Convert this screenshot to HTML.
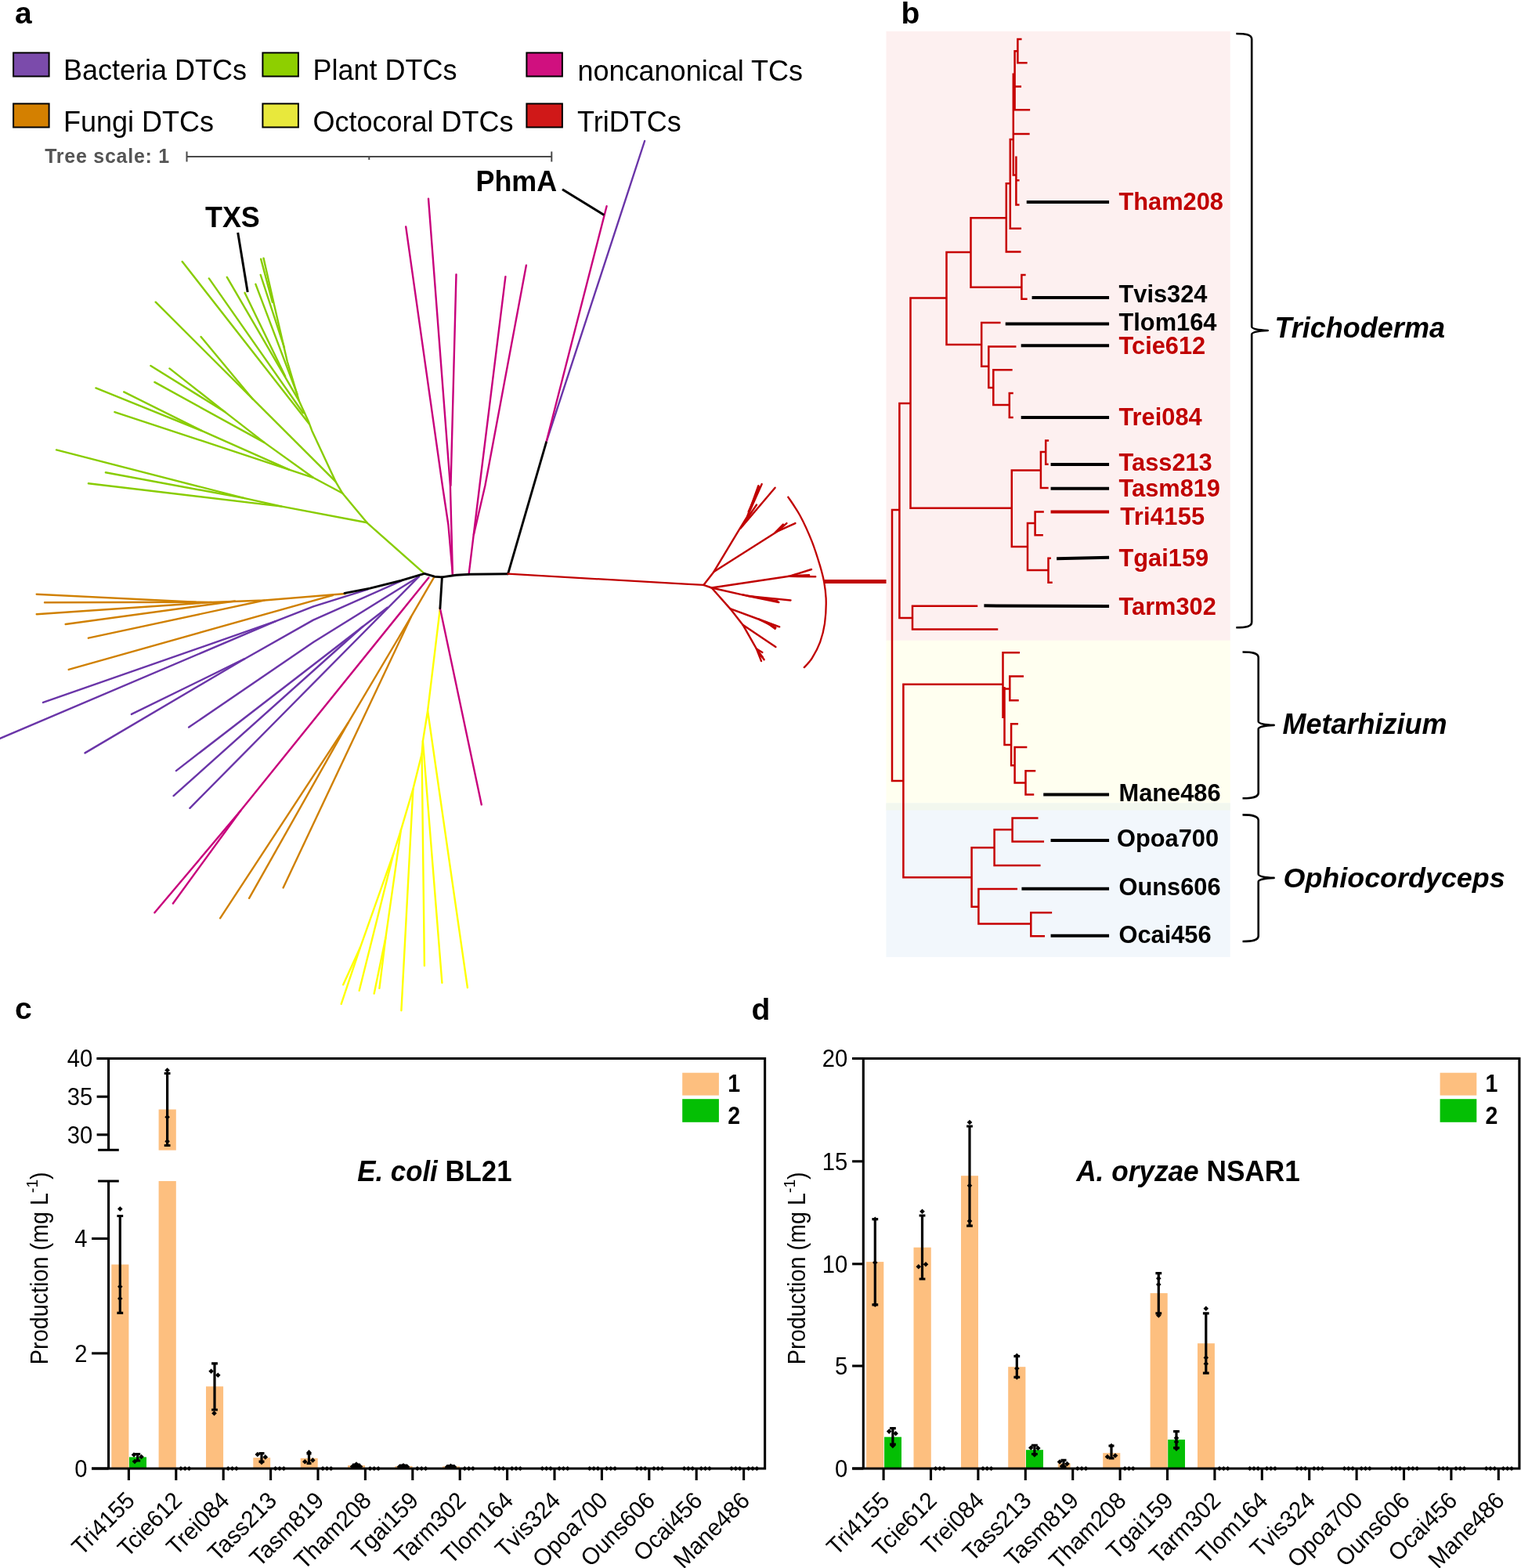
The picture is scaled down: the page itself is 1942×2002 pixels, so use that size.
<!DOCTYPE html>
<html lang="en"><head><meta charset="utf-8"><title>Figure</title>
<style>
html,body{margin:0;padding:0;background:#fff;}
body{width:1942px;height:2002px;overflow:hidden;}
svg{display:block;}
svg text{font-family:"Liberation Sans",Arial,Helvetica,sans-serif;}
</style></head><body>
<svg width="1942" height="2002" viewBox="0 0 1942 2002">
<rect x="0" y="0" width="1942" height="2002" fill="#fff"/>
<text transform="translate(19,30)" font-size="39" font-weight="bold" font-style="normal" fill="#000" text-anchor="start" >a</text>
<text transform="translate(1150.5,30)" font-size="39" font-weight="bold" font-style="normal" fill="#000" text-anchor="start" >b</text>
<text transform="translate(19,1301)" font-size="39" font-weight="bold" font-style="normal" fill="#000" text-anchor="start" >c</text>
<text transform="translate(959.5,1301.5)" font-size="39" font-weight="bold" font-style="normal" fill="#000" text-anchor="start" >d</text>
<rect x="17.1" y="67.4" width="45.5" height="30.1" fill="#7b4bab" stroke="#000" stroke-width="2"/>
<text transform="translate(81,102)" font-size="36" font-weight="normal" font-style="normal" fill="#000" text-anchor="start" >Bacteria DTCs</text>
<rect x="17.1" y="132.4" width="45.5" height="30.1" fill="#d48000" stroke="#000" stroke-width="2"/>
<text transform="translate(81,168)" font-size="36" font-weight="normal" font-style="normal" fill="#000" text-anchor="start" >Fungi DTCs</text>
<rect x="335.40000000000003" y="67.4" width="45.5" height="30.1" fill="#8ecf00" stroke="#000" stroke-width="2"/>
<text transform="translate(399.5,102)" font-size="36" font-weight="normal" font-style="normal" fill="#000" text-anchor="start" >Plant DTCs</text>
<rect x="335.40000000000003" y="132.4" width="45.5" height="30.1" fill="#e8e83c" stroke="#000" stroke-width="2"/>
<text transform="translate(399.5,168)" font-size="36" font-weight="normal" font-style="normal" fill="#000" text-anchor="start" >Octocoral DTCs</text>
<rect x="672.4" y="67.4" width="45.5" height="30.1" fill="#d0107f" stroke="#000" stroke-width="2"/>
<text transform="translate(737.5,102.5)" font-size="36" font-weight="normal" font-style="normal" fill="#000" text-anchor="start" >noncanonical TCs</text>
<rect x="672.4" y="132.4" width="45.5" height="30.1" fill="#d01818" stroke="#000" stroke-width="2"/>
<text transform="translate(737,168)" font-size="36" font-weight="normal" font-style="normal" fill="#000" text-anchor="start" >TriDTCs</text>
<text transform="translate(57.2,207.8) scale(1.0,1.03)" font-size="25" font-weight="bold" font-style="normal" fill="#555" text-anchor="start" letter-spacing="0.75">Tree scale: 1</text>
<path d="M238.5,200H704.3M238.5,193.5V206.5M704.3,193.5V206.5M471.3,200V204" stroke="#4a4a4a" stroke-width="2" fill="none"/>
<polyline points="541.9,732.4 468.5,667.3 437.3,629.8 428.5,614.8 398.3,549.9 393.6,537.4 381.9,512.0 366.8,461.5 350.4,390.8 336.5,329.6" fill="none" stroke="#88cc00" stroke-width="2.4" stroke-linecap="round" stroke-linejoin="round" />
<polyline points="333.1,330.6 347.8,385.8" fill="none" stroke="#88cc00" stroke-width="2.4" stroke-linecap="round" stroke-linejoin="round" />
<polyline points="332.7,351.0 363.0,443.8" fill="none" stroke="#88cc00" stroke-width="2.4" stroke-linecap="round" stroke-linejoin="round" />
<polyline points="326.4,362.8 379.4,503.2" fill="none" stroke="#88cc00" stroke-width="2.4" stroke-linecap="round" stroke-linejoin="round" />
<polyline points="312.5,373.8 364.2,480.4" fill="none" stroke="#88cc00" stroke-width="2.4" stroke-linecap="round" stroke-linejoin="round" />
<polyline points="289.8,353.9 381.9,512.0" fill="none" stroke="#88cc00" stroke-width="2.4" stroke-linecap="round" stroke-linejoin="round" />
<polyline points="266.8,355.4 387.0,527.2" fill="none" stroke="#88cc00" stroke-width="2.4" stroke-linecap="round" stroke-linejoin="round" />
<polyline points="232.7,334.0 394.6,541.1" fill="none" stroke="#88cc00" stroke-width="2.4" stroke-linecap="round" stroke-linejoin="round" />
<polyline points="198.7,385.7 428.5,614.8" fill="none" stroke="#88cc00" stroke-width="2.4" stroke-linecap="round" stroke-linejoin="round" />
<polyline points="256.6,429.9 322.6,509.4" fill="none" stroke="#88cc00" stroke-width="2.4" stroke-linecap="round" stroke-linejoin="round" />
<polyline points="437.3,629.8 399.8,609.8" fill="none" stroke="#88cc00" stroke-width="2.4" stroke-linecap="round" stroke-linejoin="round" />
<polyline points="192.4,466.9 287.4,526.1 337.3,564.9 399.8,609.8" fill="none" stroke="#88cc00" stroke-width="2.4" stroke-linecap="round" stroke-linejoin="round" />
<polyline points="216.4,470.4 287.4,526.1" fill="none" stroke="#88cc00" stroke-width="2.4" stroke-linecap="round" stroke-linejoin="round" />
<polyline points="197.4,487.9 337.3,564.9" fill="none" stroke="#88cc00" stroke-width="2.4" stroke-linecap="round" stroke-linejoin="round" />
<polyline points="122.4,495.4 257.4,549.9 369.8,599.8 399.8,609.8" fill="none" stroke="#88cc00" stroke-width="2.4" stroke-linecap="round" stroke-linejoin="round" />
<polyline points="158.2,500.4 257.4,549.9" fill="none" stroke="#88cc00" stroke-width="2.4" stroke-linecap="round" stroke-linejoin="round" />
<polyline points="146.4,526.1 369.8,599.8" fill="none" stroke="#88cc00" stroke-width="2.4" stroke-linecap="round" stroke-linejoin="round" />
<polyline points="468.5,667.3 359.8,646.6 312.3,636.1 72.0,574.4" fill="none" stroke="#88cc00" stroke-width="2.4" stroke-linecap="round" stroke-linejoin="round" />
<polyline points="312.3,636.1 134.9,603.3" fill="none" stroke="#88cc00" stroke-width="2.4" stroke-linecap="round" stroke-linejoin="round" />
<polyline points="359.8,646.6 112.9,617.3" fill="none" stroke="#88cc00" stroke-width="2.4" stroke-linecap="round" stroke-linejoin="round" />
<polyline points="518.2,289.4 564.9,620.0 572.4,670.0 577.9,733.2" fill="none" stroke="#c8007c" stroke-width="2.4" stroke-linecap="round" stroke-linejoin="round" />
<polyline points="547.0,253.7 574.9,620.0 577.9,733.2" fill="none" stroke="#c8007c" stroke-width="2.4" stroke-linecap="round" stroke-linejoin="round" />
<polyline points="582.5,350.4 575.5,619.8" fill="none" stroke="#c8007c" stroke-width="2.4" stroke-linecap="round" stroke-linejoin="round" />
<polyline points="645.4,353.2 612.4,620.0 598.6,733.2" fill="none" stroke="#c8007c" stroke-width="2.4" stroke-linecap="round" stroke-linejoin="round" />
<polyline points="671.9,338.7 619.4,620.0 604.9,682.5" fill="none" stroke="#c8007c" stroke-width="2.4" stroke-linecap="round" stroke-linejoin="round" />
<polyline points="697.4,564.8 823.1,180.0" fill="none" stroke="#6a35a8" stroke-width="2.4" stroke-linecap="round" stroke-linejoin="round" />
<polyline points="697.4,564.8 774.6,263.2" fill="none" stroke="#c8007c" stroke-width="2.4" stroke-linecap="round" stroke-linejoin="round" />
<polyline points="441.0,758.0 337.3,766.5 269.9,769.0 249.9,768.7 46.7,758.7" fill="none" stroke="#d08000" stroke-width="2.4" stroke-linecap="round" stroke-linejoin="round" />
<polyline points="57.0,769.2 249.9,768.7" fill="none" stroke="#d08000" stroke-width="2.4" stroke-linecap="round" stroke-linejoin="round" />
<polyline points="46.7,784.2 269.9,769.0" fill="none" stroke="#d08000" stroke-width="2.4" stroke-linecap="round" stroke-linejoin="round" />
<polyline points="83.7,797.0 299.9,767.5" fill="none" stroke="#d08000" stroke-width="2.4" stroke-linecap="round" stroke-linejoin="round" />
<polyline points="112.9,814.7 337.3,766.5" fill="none" stroke="#d08000" stroke-width="2.4" stroke-linecap="round" stroke-linejoin="round" />
<polyline points="87.7,854.9 424.8,760.0" fill="none" stroke="#d08000" stroke-width="2.4" stroke-linecap="round" stroke-linejoin="round" />
<polyline points="470.0,752.4 400.0,774.4 352.0,793.2 55.0,896.9" fill="none" stroke="#6a35a8" stroke-width="2.4" stroke-linecap="round" stroke-linejoin="round" />
<polyline points="352.0,793.2 0.0,942.9" fill="none" stroke="#6a35a8" stroke-width="2.4" stroke-linecap="round" stroke-linejoin="round" />
<polyline points="512.4,741.7 400.0,791.6 312.3,841.2 167.9,911.9" fill="none" stroke="#6a35a8" stroke-width="2.4" stroke-linecap="round" stroke-linejoin="round" />
<polyline points="312.3,841.2 108.5,961.4" fill="none" stroke="#6a35a8" stroke-width="2.4" stroke-linecap="round" stroke-linejoin="round" />
<polyline points="534.9,736.2 400.0,820.0 241.1,928.6" fill="none" stroke="#6a35a8" stroke-width="2.4" stroke-linecap="round" stroke-linejoin="round" />
<polyline points="534.9,736.2 242.4,1031.8" fill="none" stroke="#6a35a8" stroke-width="2.4" stroke-linecap="round" stroke-linejoin="round" />
<polyline points="494.7,775.8 224.9,984.1" fill="none" stroke="#6a35a8" stroke-width="2.4" stroke-linecap="round" stroke-linejoin="round" />
<polyline points="463.1,800.0 221.6,1016.1" fill="none" stroke="#6a35a8" stroke-width="2.4" stroke-linecap="round" stroke-linejoin="round" />
<polyline points="547.4,737.4 307.4,1034.8 197.4,1165.3" fill="none" stroke="#c8007c" stroke-width="2.4" stroke-linecap="round" stroke-linejoin="round" />
<polyline points="307.4,1034.8 220.9,1153.5" fill="none" stroke="#c8007c" stroke-width="2.4" stroke-linecap="round" stroke-linejoin="round" />
<polyline points="553.7,737.9 524.9,787.4 444.8,922.4 281.1,1172.3" fill="none" stroke="#d08000" stroke-width="2.4" stroke-linecap="round" stroke-linejoin="round" />
<polyline points="444.8,922.4 318.1,1146.8" fill="none" stroke="#d08000" stroke-width="2.4" stroke-linecap="round" stroke-linejoin="round" />
<polyline points="524.9,787.4 361.6,1133.5" fill="none" stroke="#d08000" stroke-width="2.4" stroke-linecap="round" stroke-linejoin="round" />
<polyline points="561.9,776.7 546.1,907.5 539.9,946.2 538.6,962.5 527.4,1007.4 511.9,1059.9 502.4,1089.9 459.9,1209.8 435.7,1281.8" fill="none" stroke="#ffff00" stroke-width="2.4" stroke-linecap="round" stroke-linejoin="round" />
<polyline points="546.1,907.5 596.9,1261.0" fill="none" stroke="#ffff00" stroke-width="2.4" stroke-linecap="round" stroke-linejoin="round" />
<polyline points="539.9,946.2 564.4,1254.8" fill="none" stroke="#ffff00" stroke-width="2.4" stroke-linecap="round" stroke-linejoin="round" />
<polyline points="538.6,962.5 541.9,1233.1" fill="none" stroke="#ffff00" stroke-width="2.4" stroke-linecap="round" stroke-linejoin="round" />
<polyline points="527.4,1007.4 512.4,1290.3" fill="none" stroke="#ffff00" stroke-width="2.4" stroke-linecap="round" stroke-linejoin="round" />
<polyline points="511.9,1059.9 492.4,1197.3 477.7,1268.5" fill="none" stroke="#ffff00" stroke-width="2.4" stroke-linecap="round" stroke-linejoin="round" />
<polyline points="492.4,1197.3 484.4,1261.8" fill="none" stroke="#ffff00" stroke-width="2.4" stroke-linecap="round" stroke-linejoin="round" />
<polyline points="502.4,1089.9 458.7,1264.8" fill="none" stroke="#ffff00" stroke-width="2.4" stroke-linecap="round" stroke-linejoin="round" />
<polyline points="459.9,1209.8 438.2,1257.3" fill="none" stroke="#ffff00" stroke-width="2.4" stroke-linecap="round" stroke-linejoin="round" />
<polyline points="561.9,776.7 614.8,1027.4" fill="none" stroke="#c8007c" stroke-width="2.4" stroke-linecap="round" stroke-linejoin="round" />
<polyline points="440.0,757.4 472.5,751.2 512.4,741.2 541.9,732.4 554.9,736.2 564.4,736.9 582.4,734.2 599.9,733.2 648.6,732.7" fill="none" stroke="#000" stroke-width="2.9" stroke-linecap="round" stroke-linejoin="round" />
<polyline points="564.4,736.9 561.9,776.7" fill="none" stroke="#000" stroke-width="2.9" stroke-linecap="round" stroke-linejoin="round" />
<polyline points="648.6,732.7 697.4,564.8" fill="none" stroke="#000" stroke-width="2.9" stroke-linecap="round" stroke-linejoin="round" />
<polyline points="648.6,732.7 874.8,745.7 898.3,746.9" fill="none" stroke="#c00000" stroke-width="2.2" stroke-linecap="round" stroke-linejoin="round" />
<polyline points="898.3,746.9 911.5,729.9 942.5,678.4 954.3,659.2 968.3,620.2" fill="none" stroke="#c00000" stroke-width="2.4" stroke-linecap="round" stroke-linejoin="round" />
<polyline points="954.3,659.2 972.7,618.0" fill="none" stroke="#c00000" stroke-width="2.4" stroke-linecap="round" stroke-linejoin="round" />
<polyline points="955.7,653.3 969.7,621.7" fill="none" stroke="#c00000" stroke-width="2.4" stroke-linecap="round" stroke-linejoin="round" />
<polyline points="948.4,670.3 966.0,644.5" fill="none" stroke="#c00000" stroke-width="2.4" stroke-linecap="round" stroke-linejoin="round" />
<polyline points="945.4,674.7 989.6,622.7" fill="none" stroke="#c00000" stroke-width="2.4" stroke-linecap="round" stroke-linejoin="round" />
<polyline points="911.5,729.9 992.6,678.4 1015.4,668.1" fill="none" stroke="#c00000" stroke-width="2.4" stroke-linecap="round" stroke-linejoin="round" />
<polyline points="992.6,678.4 1004.4,668.1" fill="none" stroke="#c00000" stroke-width="2.4" stroke-linecap="round" stroke-linejoin="round" />
<polyline points="989.6,680.1 999.9,669.5" fill="none" stroke="#c00000" stroke-width="2.4" stroke-linecap="round" stroke-linejoin="round" />
<polyline points="898.3,746.9 908.6,750.5 1007.3,735.8 1036.0,727.0" fill="none" stroke="#c00000" stroke-width="2.4" stroke-linecap="round" stroke-linejoin="round" />
<polyline points="1007.3,735.8 1041.2,736.3" fill="none" stroke="#c00000" stroke-width="2.4" stroke-linecap="round" stroke-linejoin="round" />
<polyline points="1014.7,735.1 1033.1,734.1" fill="none" stroke="#c00000" stroke-width="2.4" stroke-linecap="round" stroke-linejoin="round" />
<polyline points="908.6,750.5 954.3,760.9 1009.5,766.5" fill="none" stroke="#c00000" stroke-width="2.4" stroke-linecap="round" stroke-linejoin="round" />
<polyline points="954.3,760.9 994.3,769.0" fill="none" stroke="#c00000" stroke-width="2.4" stroke-linecap="round" stroke-linejoin="round" />
<polyline points="948.4,759.4 992.6,767.5" fill="none" stroke="#c00000" stroke-width="2.4" stroke-linecap="round" stroke-linejoin="round" />
<polyline points="908.6,750.5 932.2,777.1 977.8,794.0 995.2,800.3" fill="none" stroke="#c00000" stroke-width="2.4" stroke-linecap="round" stroke-linejoin="round" />
<polyline points="977.8,794.0 989.6,802.8" fill="none" stroke="#c00000" stroke-width="2.4" stroke-linecap="round" stroke-linejoin="round" />
<polyline points="969.0,790.6 990.4,801.4" fill="none" stroke="#c00000" stroke-width="2.4" stroke-linecap="round" stroke-linejoin="round" />
<polyline points="932.2,777.1 948.4,797.7 990.4,826.0" fill="none" stroke="#c00000" stroke-width="2.4" stroke-linecap="round" stroke-linejoin="round" />
<polyline points="948.4,797.7 966.0,828.6 975.6,842.2" fill="none" stroke="#c00000" stroke-width="2.4" stroke-linecap="round" stroke-linejoin="round" />
<polyline points="966.0,828.6 972.0,844.1" fill="none" stroke="#c00000" stroke-width="2.4" stroke-linecap="round" stroke-linejoin="round" />
<polyline points="966.0,828.6 973.4,833.0" fill="none" stroke="#c00000" stroke-width="2.4" stroke-linecap="round" stroke-linejoin="round" />
<polyline points="968.3,833.0 973.4,838.9" fill="none" stroke="#c00000" stroke-width="3" stroke-linecap="round" stroke-linejoin="round" />
<path d="M1005.8,633.8 C1008.5,638.0 1016.9,649.6 1022.0,659.2 C1027.2,668.9 1032.6,681.1 1036.8,691.6 C1040.9,702.2 1044.5,714.0 1047.1,722.6 C1049.6,731.2 1050.9,735.8 1052.2,743.2 C1053.5,750.6 1054.6,757.9 1054.7,766.8 C1054.9,775.6 1054.2,787.4 1053.0,796.2 C1051.7,805.1 1049.8,812.4 1047.1,819.8 C1044.4,827.1 1040.2,834.9 1036.8,840.4 C1033.3,845.9 1027.9,850.8 1026.2,852.9" fill="none" stroke="#c00000" stroke-width="2.3" stroke-linecap="butt"/>
<line x1="1052.5" y1="742.5" x2="1132" y2="742.5" stroke="#c00000" stroke-width="5"/>
<text transform="translate(262,290) scale(1.0,1.03)" font-size="35.9" font-weight="bold" font-style="normal" fill="#000" text-anchor="start" >TXS</text>
<line x1="303.7" y1="297" x2="316.2" y2="373" stroke="#000" stroke-width="3"/>
<text transform="translate(607.5,243.6) scale(1.0,1.03)" font-size="35.9" font-weight="bold" font-style="normal" fill="#000" text-anchor="start" >PhmA</text>
<line x1="718" y1="241.7" x2="771.2" y2="274.5" stroke="#000" stroke-width="3"/>
<rect x="1131.5" y="40" width="439.2" height="778" fill="#fdf0f0"/>
<rect x="1131.5" y="817.7" width="439.2" height="217" fill="#fffff0"/>
<rect x="1131.5" y="1025.5" width="439.2" height="196.5" fill="#f2f7fc"/>
<rect x="1131.5" y="1025.5" width="439.2" height="9" fill="#f2f7ee"/>
<path d="M1299.4,50.0 L1299.4,80.3 M1299.4,50.0 L1303.3,50.0 M1299.4,80.3 L1310.4,80.3 M1295.6,65.2 L1295.6,140.2 M1295.6,65.2 L1298.3,65.2 M1295.6,110.6 L1302.8,110.6 M1293.8,140.2 L1313.9,140.2 M1293.8,94.7 L1293.8,223.5 M1293.8,171.0 L1313.4,171.0 M1289.8,178.0 L1289.8,291.7 M1289.8,178.0 L1292.7,178.0 M1297.4,200.8 L1297.4,261.4 M1293.8,223.5 L1296.2,223.5 M1297.4,230.3 L1300.3,230.3 M1297.4,261.4 L1300.3,261.4 M1289.8,291.7 L1302.8,291.7 M1284.8,234.3 L1284.8,321.5 M1284.8,234.3 L1288.7,234.3 M1284.8,321.5 L1302.3,321.5 M1239.5,278.3 L1283.6,278.3 M1239.5,278.3 L1239.5,366.7 M1239.5,366.7 L1303.3,366.7 M1304.4,351.0 L1304.4,381.8 M1304.4,351.0 L1308.4,351.0 M1304.4,381.8 L1310.4,381.8 M1208.5,322.0 L1238.4,322.0 M1208.5,322.0 L1208.5,439.9 M1208.5,439.9 L1252.0,439.9 M1162.5,380.6 L1207.3,380.6 M1162.5,380.6 L1162.5,648.8 M1253.2,412.1 L1253.2,467.8 M1253.2,412.1 L1276.3,412.1 M1162.5,648.8 L1290.7,648.8 M1253.2,467.8 L1261.1,467.8 M1262.3,442.5 L1262.3,495.1 M1262.3,442.5 L1296.2,442.5 M1262.3,495.1 L1267.2,495.1 M1268.3,472.3 L1268.3,517.0 M1268.3,472.3 L1291.4,472.3 M1268.3,517.0 L1287.7,517.0 M1288.8,501.9 L1288.8,532.9 M1288.8,501.9 L1292.5,501.9 M1288.8,532.9 L1292.5,532.9 M1148.4,515.0 L1148.4,789.0 M1148.4,515.0 L1161.4,515.0 M1148.4,789.0 L1163.9,789.0 M1139.0,650.9 L1147.2,650.9 M1139.0,650.9 L1139.0,997.0 M1291.8,600.4 L1291.8,698.1 M1291.8,600.4 L1327.8,600.4 M1291.8,698.1 L1310.9,698.1 M1328.9,577.1 L1328.9,623.1 M1328.9,577.1 L1334.1,577.1 M1328.9,623.1 L1337.4,623.1 M1335.2,562.5 L1335.2,592.8 M1335.2,562.5 L1337.9,562.5 M1335.2,592.8 L1337.4,592.8 M1312.0,668.0 L1312.0,727.9 M1312.0,668.0 L1320.5,668.0 M1312.0,727.9 L1337.4,727.9 M1321.6,653.4 L1321.6,683.2 M1321.6,653.4 L1331.6,653.4 M1321.6,683.2 L1330.6,683.2 M1338.5,712.7 L1338.5,743.8 M1338.5,712.7 L1340.7,712.7 M1338.5,743.8 L1342.5,743.8 M1165.0,773.8 L1165.0,803.6 M1165.0,773.8 L1247.0,773.8 M1165.0,803.6 L1273.0,803.6 M1139.0,997.0 L1152.3,997.0 M1153.4,873.7 L1153.4,1120.2 M1153.4,873.7 L1279.3,873.7 M1153.4,1120.2 L1239.4,1120.2 M1280.5,833.3 L1280.5,915.7 M1280.5,833.3 L1300.8,833.3 M1282.5,878.3 L1282.5,951.0 M1282.5,879.5 L1288.2,879.5 M1289.3,863.6 L1289.3,894.2 M1289.3,863.6 L1305.8,863.6 M1289.3,894.2 L1299.5,894.2 M1282.5,951.0 L1289.9,951.0 M1291.1,924.2 L1291.1,977.3 M1291.1,924.2 L1298.8,924.2 M1291.1,977.3 L1294.5,977.3 M1295.6,954.0 L1295.6,999.5 M1295.6,954.0 L1310.1,954.0 M1295.6,999.5 L1308.4,999.5 M1309.5,984.3 L1309.5,1014.6 M1309.5,984.3 L1321.0,984.3 M1309.5,1014.6 L1319.0,1014.6 M1240.6,1082.3 L1240.6,1157.8 M1240.6,1082.3 L1268.5,1082.3 M1240.6,1157.8 L1248.3,1157.8 M1269.6,1059.3 L1269.6,1105.0 M1269.6,1059.3 L1291.4,1059.3 M1269.6,1105.0 L1327.3,1105.0 M1292.6,1044.4 L1292.6,1074.5 M1292.6,1044.4 L1324.3,1044.4 M1292.6,1074.5 L1331.8,1074.5 M1249.4,1135.1 L1249.4,1179.5 M1249.4,1135.1 L1297.8,1135.1 M1249.4,1179.5 L1315.2,1179.5 M1316.3,1165.2 L1316.3,1195.2 M1316.3,1165.2 L1341.9,1165.2 M1316.3,1195.2 L1332.8,1195.2 " fill="none" stroke="#c60000" stroke-width="2.5" stroke-linecap="square"/>
<line x1="1310.76" y1="258.08" x2="1416.06" y2="258.08" stroke="#000" stroke-width="4"/>
<line x1="1317.58" y1="380.05" x2="1416.06" y2="380.05" stroke="#000" stroke-width="4"/>
<line x1="1283.74" y1="413.38" x2="1416.06" y2="413.38" stroke="#000" stroke-width="4"/>
<line x1="1303.69" y1="441.16" x2="1416.06" y2="441.16" stroke="#000" stroke-width="4"/>
<line x1="1303.69" y1="532.93" x2="1416.06" y2="532.93" stroke="#000" stroke-width="4"/>
<line x1="1341.57" y1="593.03" x2="1416.06" y2="593.03" stroke="#000" stroke-width="4"/>
<line x1="1341.57" y1="623.84" x2="1416.06" y2="623.84" stroke="#000" stroke-width="4"/>
<line x1="1341.57" y1="653.38" x2="1416.06" y2="653.38" stroke="#c00000" stroke-width="4"/>
<line x1="1349.14" y1="713.23" x2="1416.06" y2="711.72" stroke="#000" stroke-width="4"/>
<line x1="1256.46" y1="773.33" x2="1416.06" y2="774.09" stroke="#000" stroke-width="4"/>
<line x1="1332.22" y1="1014.39" x2="1416.06" y2="1014.39" stroke="#000" stroke-width="4"/>
<line x1="1341.57" y1="1072.98" x2="1416.06" y2="1072.98" stroke="#000" stroke-width="4"/>
<line x1="1304.44" y1="1134.85" x2="1416.06" y2="1134.85" stroke="#000" stroke-width="4"/>
<line x1="1341.57" y1="1194.7" x2="1416.06" y2="1194.7" stroke="#000" stroke-width="4"/>
<text transform="translate(1428.5,268) scale(1.0,1.042)" font-size="30.8" font-weight="bold" font-style="normal" fill="#c00000" text-anchor="start" >Tham208</text>
<text transform="translate(1428.5,385.9) scale(1.0,1.042)" font-size="30.8" font-weight="bold" font-style="normal" fill="#000" text-anchor="start" >Tvis324</text>
<text transform="translate(1428.5,421.7) scale(1.0,1.042)" font-size="30.8" font-weight="bold" font-style="normal" fill="#000" text-anchor="start" >Tlom164</text>
<text transform="translate(1428.5,451.5) scale(1.0,1.042)" font-size="30.8" font-weight="bold" font-style="normal" fill="#c00000" text-anchor="start" >Tcie612</text>
<text transform="translate(1428.5,542.9) scale(1.0,1.042)" font-size="30.8" font-weight="bold" font-style="normal" fill="#c00000" text-anchor="start" >Trei084</text>
<text transform="translate(1428.5,600.9) scale(1.0,1.042)" font-size="30.8" font-weight="bold" font-style="normal" fill="#c00000" text-anchor="start" >Tass213</text>
<text transform="translate(1428.5,634) scale(1.0,1.042)" font-size="30.8" font-weight="bold" font-style="normal" fill="#c00000" text-anchor="start" >Tasm819</text>
<text transform="translate(1430.3,669.8) scale(1.0,1.042)" font-size="30.8" font-weight="bold" font-style="normal" fill="#c00000" text-anchor="start" letter-spacing="0.3">Tri4155</text>
<text transform="translate(1428.5,723.3) scale(1.0,1.042)" font-size="30.8" font-weight="bold" font-style="normal" fill="#c00000" text-anchor="start" >Tgai159</text>
<text transform="translate(1428.5,784.7) scale(1.0,1.042)" font-size="30.8" font-weight="bold" font-style="normal" fill="#c00000" text-anchor="start" >Tarm302</text>
<text transform="translate(1428.5,1022.7) scale(1.0,1.042)" font-size="30.8" font-weight="bold" font-style="normal" fill="#000" text-anchor="start" >Mane486</text>
<text transform="translate(1426,1081) scale(1.0,1.042)" font-size="30.8" font-weight="bold" font-style="normal" fill="#000" text-anchor="start" >Opoa700</text>
<text transform="translate(1428.5,1143.4) scale(1.0,1.042)" font-size="30.8" font-weight="bold" font-style="normal" fill="#000" text-anchor="start" >Ouns606</text>
<text transform="translate(1428.5,1203.5) scale(1.0,1.042)" font-size="30.8" font-weight="bold" font-style="normal" fill="#000" text-anchor="start" >Ocai456</text>
<path d="M1578.3,43 C1590.3,43 1598.2,44 1598.2,50 L1598.2,417 Q1598.2,421 1618.7,422 Q1598.2,423 1598.2,427 L1598.2,794.2 C1598.2,800.2 1590.3,801.2 1578.3,801.2" fill="none" stroke="#000" stroke-width="2.6" stroke-linejoin="round"/>
<path d="M1586.5,832.5 C1598.5,832.5 1606.7,833.5 1606.7,839.5 L1606.7,920.9 Q1606.7,924.9 1626.6,925.9 Q1606.7,926.9 1606.7,930.9 L1606.7,1012.3 C1606.7,1018.3 1598.5,1019.3 1586.5,1019.3" fill="none" stroke="#000" stroke-width="2.6" stroke-linejoin="round"/>
<path d="M1586.5,1040.4 C1598.5,1040.4 1606.7,1041.4 1606.7,1047.4 L1606.7,1115.9 Q1606.7,1119.9 1626.6,1120.9 Q1606.7,1121.9 1606.7,1125.9 L1606.7,1195 C1606.7,1201 1598.5,1202 1586.5,1202" fill="none" stroke="#000" stroke-width="2.6" stroke-linejoin="round"/>
<text transform="translate(1627.5,431)" font-size="36" font-weight="bold" font-style="italic" fill="#000" text-anchor="start" >Trichoderma</text>
<text transform="translate(1637.5,937.2)" font-size="36" font-weight="bold" font-style="italic" fill="#000" text-anchor="start" >Metarhizium</text>
<text transform="translate(1638.5,1132.5)" font-size="35.9" font-weight="bold" font-style="italic" fill="#000" text-anchor="start" >Ophiocordyceps</text>
<text transform="translate(173.7,1917.8) rotate(-45) scale(1.0,1.04)" font-size="29.3" font-weight="normal" font-style="normal" fill="#000" text-anchor="end" >Tri4155</text>
<text transform="translate(234.1,1917.8) rotate(-45) scale(1.0,1.04)" font-size="29.3" font-weight="normal" font-style="normal" fill="#000" text-anchor="end" >Tcie612</text>
<text transform="translate(294.5,1917.8) rotate(-45) scale(1.0,1.04)" font-size="29.3" font-weight="normal" font-style="normal" fill="#000" text-anchor="end" >Trei084</text>
<text transform="translate(354.9,1917.8) rotate(-45) scale(1.0,1.04)" font-size="29.3" font-weight="normal" font-style="normal" fill="#000" text-anchor="end" >Tass213</text>
<text transform="translate(415.3,1917.8) rotate(-45) scale(1.0,1.04)" font-size="29.3" font-weight="normal" font-style="normal" fill="#000" text-anchor="end" >Tasm819</text>
<text transform="translate(475.7,1917.8) rotate(-45) scale(1.0,1.04)" font-size="29.3" font-weight="normal" font-style="normal" fill="#000" text-anchor="end" >Tham208</text>
<text transform="translate(536.1,1917.8) rotate(-45) scale(1.0,1.04)" font-size="29.3" font-weight="normal" font-style="normal" fill="#000" text-anchor="end" >Tgai159</text>
<text transform="translate(596.5,1917.8) rotate(-45) scale(1.0,1.04)" font-size="29.3" font-weight="normal" font-style="normal" fill="#000" text-anchor="end" >Tarm302</text>
<text transform="translate(656.9,1917.8) rotate(-45) scale(1.0,1.04)" font-size="29.3" font-weight="normal" font-style="normal" fill="#000" text-anchor="end" >Tlom164</text>
<text transform="translate(717.3,1917.8) rotate(-45) scale(1.0,1.04)" font-size="29.3" font-weight="normal" font-style="normal" fill="#000" text-anchor="end" >Tvis324</text>
<text transform="translate(777.7,1917.8) rotate(-45) scale(1.0,1.04)" font-size="29.3" font-weight="normal" font-style="normal" fill="#000" text-anchor="end" >Opoa700</text>
<text transform="translate(838.1,1917.8) rotate(-45) scale(1.0,1.04)" font-size="29.3" font-weight="normal" font-style="normal" fill="#000" text-anchor="end" >Ouns606</text>
<text transform="translate(898.5,1917.8) rotate(-45) scale(1.0,1.04)" font-size="29.3" font-weight="normal" font-style="normal" fill="#000" text-anchor="end" >Ocai456</text>
<text transform="translate(958.9,1917.8) rotate(-45) scale(1.0,1.04)" font-size="29.3" font-weight="normal" font-style="normal" fill="#000" text-anchor="end" >Mane486</text>
<text transform="translate(118.2,1362.4) scale(1.0,1.05)" font-size="29.2" font-weight="normal" font-style="normal" fill="#000" text-anchor="end" >40</text>
<text transform="translate(118.2,1411.1000000000001) scale(1.0,1.05)" font-size="29.2" font-weight="normal" font-style="normal" fill="#000" text-anchor="end" >35</text>
<text transform="translate(118.2,1459.7) scale(1.0,1.05)" font-size="29.2" font-weight="normal" font-style="normal" fill="#000" text-anchor="end" >30</text>
<text transform="translate(111.6,1592.3000000000002) scale(1.0,1.05)" font-size="29.2" font-weight="normal" font-style="normal" fill="#000" text-anchor="end" >4</text>
<text transform="translate(111.6,1738.8000000000002) scale(1.0,1.05)" font-size="29.2" font-weight="normal" font-style="normal" fill="#000" text-anchor="end" >2</text>
<text transform="translate(111.6,1885.9) scale(1.0,1.05)" font-size="29.2" font-weight="normal" font-style="normal" fill="#000" text-anchor="end" >0</text>
<text transform="translate(61,1619.3) rotate(-90) scale(1,1.07)" font-size="28.8" text-anchor="middle">Production (mg L<tspan font-size="19" dy="-12">-1</tspan><tspan dy="12">)</tspan></text>
<rect x="871.2" y="1369.7" width="46.7" height="28.9" fill="#fdbf7f"/>
<rect x="871.2" y="1403.2" width="46.7" height="29.6" fill="#04bf04"/>
<text transform="translate(929.2,1394.2) scale(1.0,1.09)" font-size="28.5" font-weight="bold" font-style="normal" fill="#000" text-anchor="start" >1</text>
<text transform="translate(929.2,1434.5) scale(1.0,1.09)" font-size="28.5" font-weight="bold" font-style="normal" fill="#000" text-anchor="start" >2</text>
<text transform="translate(456.3,1507.8) scale(1.0,1.04)" font-size="34.8" font-weight="bold" font-style="normal" fill="#000" text-anchor="start" ><tspan font-style="italic">E. coli</tspan> BL21</text>
<rect x="142.3" y="1614.5" width="22.1" height="260.5" fill="#fdbf7f"/>
<rect x="164.9" y="1860.4" width="22.1" height="14.6" fill="#04bf04"/>
<rect x="202.6" y="1508.0" width="22.2" height="367.0" fill="#fdbf7f"/>
<rect x="202.6" y="1416.5" width="22.2" height="52.1" fill="#fdbf7f"/>
<rect x="263.0" y="1770.2" width="22.1" height="104.8" fill="#fdbf7f"/>
<rect x="323.3" y="1861.2" width="21.9" height="13.8" fill="#fdbf7f"/>
<rect x="383.7" y="1861.8" width="22.0" height="13.2" fill="#fdbf7f"/>
<rect x="444.0" y="1871.0" width="22.0" height="4.0" fill="#fdbf7f"/>
<rect x="504.5" y="1872.0" width="22.0" height="3.0" fill="#fdbf7f"/>
<rect x="565.0" y="1872.3" width="22.0" height="2.7" fill="#fdbf7f"/>
<line x1="164.4" y1="1875" x2="164.4" y2="1890" stroke="#000" stroke-width="3.1"/>
<line x1="224.8" y1="1875" x2="224.8" y2="1890" stroke="#000" stroke-width="3.1"/>
<line x1="285.2" y1="1875" x2="285.2" y2="1890" stroke="#000" stroke-width="3.1"/>
<line x1="345.6" y1="1875" x2="345.6" y2="1890" stroke="#000" stroke-width="3.1"/>
<line x1="406.0" y1="1875" x2="406.0" y2="1890" stroke="#000" stroke-width="3.1"/>
<line x1="466.4" y1="1875" x2="466.4" y2="1890" stroke="#000" stroke-width="3.1"/>
<line x1="526.8" y1="1875" x2="526.8" y2="1890" stroke="#000" stroke-width="3.1"/>
<line x1="587.2" y1="1875" x2="587.2" y2="1890" stroke="#000" stroke-width="3.1"/>
<line x1="647.6" y1="1875" x2="647.6" y2="1890" stroke="#000" stroke-width="3.1"/>
<line x1="708.0" y1="1875" x2="708.0" y2="1890" stroke="#000" stroke-width="3.1"/>
<line x1="768.4" y1="1875" x2="768.4" y2="1890" stroke="#000" stroke-width="3.1"/>
<line x1="828.8" y1="1875" x2="828.8" y2="1890" stroke="#000" stroke-width="3.1"/>
<line x1="889.2" y1="1875" x2="889.2" y2="1890" stroke="#000" stroke-width="3.1"/>
<line x1="949.6" y1="1875" x2="949.6" y2="1890" stroke="#000" stroke-width="3.1"/>
<path d="M123.6,1351.5H976.6V1875H117.1M138.6,1351.5V1468.3M125.1,1468.3H151.79999999999998M138.6,1508V1875M125.1,1508H151.79999999999998" stroke="#000" stroke-width="3.1" fill="none"/>
<line x1="123.6" y1="1351.5" x2="138.6" y2="1351.5" stroke="#000" stroke-width="3.1"/>
<line x1="123.6" y1="1400.2" x2="138.6" y2="1400.2" stroke="#000" stroke-width="3.1"/>
<line x1="123.6" y1="1448.8" x2="138.6" y2="1448.8" stroke="#000" stroke-width="3.1"/>
<line x1="117.1" y1="1581.4" x2="138.6" y2="1581.4" stroke="#000" stroke-width="3.1"/>
<line x1="117.1" y1="1727.9" x2="138.6" y2="1727.9" stroke="#000" stroke-width="3.1"/>
<line x1="117.1" y1="1875" x2="138.6" y2="1875" stroke="#000" stroke-width="3.1"/>
<path d="M153.3,1552.5V1676.4M149.4,1552.5H157.2M149.4,1676.4H157.2" stroke="#000" stroke-width="3.2" fill="none"/>
<path d="M153.3,1540.2 L156.6,1543.5 L153.3,1546.8 L150.0,1543.5Z" fill="#000"/>
<path d="M153.3,1639.4 L156.6,1642.7 L153.3,1646.0 L150.0,1642.7Z" fill="#000"/>
<path d="M153.3,1654.7 L156.6,1658.0 L153.3,1661.3 L150.0,1658.0Z" fill="#000"/>
<path d="M175.7,1856.5V1865.0M172.2,1856.5H179.2M172.2,1865.0H179.2" stroke="#000" stroke-width="3.2" fill="none"/>
<path d="M171.0,1854.2 L174.3,1857.5 L171.0,1860.8 L167.7,1857.5Z" fill="#000"/>
<path d="M180.5,1856.7 L183.8,1860.0 L180.5,1863.3 L177.2,1860.0Z" fill="#000"/>
<path d="M172.0,1862.7 L175.3,1866.0 L172.0,1869.3 L168.7,1866.0Z" fill="#000"/>
<path d="M213.6,1370.5V1462.5M209.7,1370.5H217.5M209.7,1462.5H217.5" stroke="#000" stroke-width="3.2" fill="none"/>
<path d="M213.6,1363.2 L216.9,1366.5 L213.6,1369.8 L210.3,1366.5Z" fill="#000"/>
<path d="M213.6,1422.9 L216.9,1426.2 L213.6,1429.5 L210.3,1426.2Z" fill="#000"/>
<path d="M213.6,1454.0 L216.9,1457.3 L213.6,1460.6 L210.3,1457.3Z" fill="#000"/>
<path d="M274.0,1740.8V1800.0M270.1,1740.8H277.9M270.1,1800.0H277.9" stroke="#000" stroke-width="3.2" fill="none"/>
<path d="M269.6,1747.5 L272.9,1750.8 L269.6,1754.1 L266.3,1750.8Z" fill="#000"/>
<path d="M278.3,1752.5 L281.6,1755.8 L278.3,1759.1 L275.0,1755.8Z" fill="#000"/>
<path d="M273.5,1801.1 L276.8,1804.4 L273.5,1807.7 L270.2,1804.4Z" fill="#000"/>
<path d="M334.0,1855.7V1866.2M330.5,1855.7H337.5M330.5,1866.2H337.5" stroke="#000" stroke-width="3.2" fill="none"/>
<path d="M328.8,1853.7 L332.1,1857.0 L328.8,1860.3 L325.5,1857.0Z" fill="#000"/>
<path d="M338.8,1857.1 L342.1,1860.4 L338.8,1863.7 L335.5,1860.4Z" fill="#000"/>
<path d="M334.0,1863.7 L337.3,1867.0 L334.0,1870.3 L330.7,1867.0Z" fill="#000"/>
<path d="M394.5,1856.0V1868.3M391.5,1856.0H397.5M391.5,1868.3H397.5" stroke="#000" stroke-width="3.2" fill="none"/>
<path d="M394.5,1851.1 L397.8,1854.4 L394.5,1857.7 L391.2,1854.4Z" fill="#000"/>
<path d="M389.3,1862.9 L392.6,1866.2 L389.3,1869.5 L386.0,1866.2Z" fill="#000"/>
<path d="M399.3,1861.1 L402.6,1864.4 L399.3,1867.7 L396.0,1864.4Z" fill="#000"/>
<path d="M455.0,1870.0V1873.0M450.0,1870.0H460.0M450.0,1873.0H460.0" stroke="#000" stroke-width="3.2" fill="none"/>
<path d="M450.0,1869.2 L453.3,1872.5 L450.0,1875.8 L446.7,1872.5Z" fill="#000"/>
<path d="M455.0,1866.2 L458.3,1869.5 L455.0,1872.8 L451.7,1869.5Z" fill="#000"/>
<path d="M460.0,1869.2 L463.3,1872.5 L460.0,1875.8 L456.7,1872.5Z" fill="#000"/>
<path d="M515.0,1871.0V1873.5M510.0,1871.0H520.0M510.0,1873.5H520.0" stroke="#000" stroke-width="3.2" fill="none"/>
<path d="M510.0,1869.4 L513.3,1872.7 L510.0,1876.0 L506.7,1872.7Z" fill="#000"/>
<path d="M515.0,1867.9 L518.3,1871.2 L515.0,1874.5 L511.7,1871.2Z" fill="#000"/>
<path d="M520.0,1869.4 L523.3,1872.7 L520.0,1876.0 L516.7,1872.7Z" fill="#000"/>
<path d="M575.5,1871.5V1873.5M570.5,1871.5H580.5M570.5,1873.5H580.5" stroke="#000" stroke-width="3.2" fill="none"/>
<path d="M571.0,1869.7 L574.3,1873.0 L571.0,1876.3 L567.7,1873.0Z" fill="#000"/>
<path d="M575.5,1868.4 L578.8,1871.7 L575.5,1875.0 L572.2,1871.7Z" fill="#000"/>
<path d="M580.0,1869.7 L583.3,1873.0 L580.0,1876.3 L576.7,1873.0Z" fill="#000"/>
<line x1="230.2" y1="1875" x2="242.2" y2="1875" stroke="#000" stroke-width="1.6"/>
<path d="M230.9,1871.9 L234.0,1875.0 L230.9,1878.1 L227.8,1875.0Z" fill="#000"/>
<path d="M236.2,1871.9 L239.3,1875.0 L236.2,1878.1 L233.1,1875.0Z" fill="#000"/>
<path d="M241.5,1871.9 L244.6,1875.0 L241.5,1878.1 L238.4,1875.0Z" fill="#000"/>
<line x1="290.6" y1="1875" x2="302.6" y2="1875" stroke="#000" stroke-width="1.6"/>
<path d="M291.3,1871.9 L294.4,1875.0 L291.3,1878.1 L288.2,1875.0Z" fill="#000"/>
<path d="M296.6,1871.9 L299.7,1875.0 L296.6,1878.1 L293.5,1875.0Z" fill="#000"/>
<path d="M301.9,1871.9 L305.0,1875.0 L301.9,1878.1 L298.8,1875.0Z" fill="#000"/>
<line x1="351.0" y1="1875" x2="363.0" y2="1875" stroke="#000" stroke-width="1.6"/>
<path d="M351.7,1871.9 L354.8,1875.0 L351.7,1878.1 L348.6,1875.0Z" fill="#000"/>
<path d="M357.0,1871.9 L360.1,1875.0 L357.0,1878.1 L353.9,1875.0Z" fill="#000"/>
<path d="M362.3,1871.9 L365.4,1875.0 L362.3,1878.1 L359.2,1875.0Z" fill="#000"/>
<line x1="411.4" y1="1875" x2="423.4" y2="1875" stroke="#000" stroke-width="1.6"/>
<path d="M412.1,1871.9 L415.2,1875.0 L412.1,1878.1 L409.0,1875.0Z" fill="#000"/>
<path d="M417.4,1871.9 L420.5,1875.0 L417.4,1878.1 L414.3,1875.0Z" fill="#000"/>
<path d="M422.7,1871.9 L425.8,1875.0 L422.7,1878.1 L419.6,1875.0Z" fill="#000"/>
<line x1="471.8" y1="1875" x2="483.8" y2="1875" stroke="#000" stroke-width="1.6"/>
<path d="M472.5,1871.9 L475.6,1875.0 L472.5,1878.1 L469.4,1875.0Z" fill="#000"/>
<path d="M477.8,1871.9 L480.9,1875.0 L477.8,1878.1 L474.7,1875.0Z" fill="#000"/>
<path d="M483.1,1871.9 L486.2,1875.0 L483.1,1878.1 L480.0,1875.0Z" fill="#000"/>
<line x1="532.2" y1="1875" x2="544.2" y2="1875" stroke="#000" stroke-width="1.6"/>
<path d="M532.9,1871.9 L536.0,1875.0 L532.9,1878.1 L529.8,1875.0Z" fill="#000"/>
<path d="M538.2,1871.9 L541.3,1875.0 L538.2,1878.1 L535.1,1875.0Z" fill="#000"/>
<path d="M543.5,1871.9 L546.6,1875.0 L543.5,1878.1 L540.4,1875.0Z" fill="#000"/>
<line x1="592.6" y1="1875" x2="604.6" y2="1875" stroke="#000" stroke-width="1.6"/>
<path d="M593.3,1871.9 L596.4,1875.0 L593.3,1878.1 L590.2,1875.0Z" fill="#000"/>
<path d="M598.6,1871.9 L601.7,1875.0 L598.6,1878.1 L595.5,1875.0Z" fill="#000"/>
<path d="M603.9,1871.9 L607.0,1875.0 L603.9,1878.1 L600.8,1875.0Z" fill="#000"/>
<line x1="653.0" y1="1875" x2="665.0" y2="1875" stroke="#000" stroke-width="1.6"/>
<path d="M653.7,1871.9 L656.8,1875.0 L653.7,1878.1 L650.6,1875.0Z" fill="#000"/>
<path d="M659.0,1871.9 L662.1,1875.0 L659.0,1878.1 L655.9,1875.0Z" fill="#000"/>
<path d="M664.3,1871.9 L667.4,1875.0 L664.3,1878.1 L661.2,1875.0Z" fill="#000"/>
<line x1="631.3" y1="1875" x2="643.3" y2="1875" stroke="#000" stroke-width="1.6"/>
<path d="M632.0,1871.9 L635.1,1875.0 L632.0,1878.1 L628.9,1875.0Z" fill="#000"/>
<path d="M637.3,1871.9 L640.4,1875.0 L637.3,1878.1 L634.2,1875.0Z" fill="#000"/>
<path d="M642.6,1871.9 L645.7,1875.0 L642.6,1878.1 L639.5,1875.0Z" fill="#000"/>
<line x1="713.4" y1="1875" x2="725.4" y2="1875" stroke="#000" stroke-width="1.6"/>
<path d="M714.1,1871.9 L717.2,1875.0 L714.1,1878.1 L711.0,1875.0Z" fill="#000"/>
<path d="M719.4,1871.9 L722.5,1875.0 L719.4,1878.1 L716.3,1875.0Z" fill="#000"/>
<path d="M724.7,1871.9 L727.8,1875.0 L724.7,1878.1 L721.6,1875.0Z" fill="#000"/>
<line x1="691.7" y1="1875" x2="703.7" y2="1875" stroke="#000" stroke-width="1.6"/>
<path d="M692.4,1871.9 L695.5,1875.0 L692.4,1878.1 L689.3,1875.0Z" fill="#000"/>
<path d="M697.7,1871.9 L700.8,1875.0 L697.7,1878.1 L694.6,1875.0Z" fill="#000"/>
<path d="M703.0,1871.9 L706.1,1875.0 L703.0,1878.1 L699.9,1875.0Z" fill="#000"/>
<line x1="773.8" y1="1875" x2="785.8" y2="1875" stroke="#000" stroke-width="1.6"/>
<path d="M774.5,1871.9 L777.6,1875.0 L774.5,1878.1 L771.4,1875.0Z" fill="#000"/>
<path d="M779.8,1871.9 L782.9,1875.0 L779.8,1878.1 L776.7,1875.0Z" fill="#000"/>
<path d="M785.1,1871.9 L788.2,1875.0 L785.1,1878.1 L782.0,1875.0Z" fill="#000"/>
<line x1="752.1" y1="1875" x2="764.1" y2="1875" stroke="#000" stroke-width="1.6"/>
<path d="M752.8,1871.9 L755.9,1875.0 L752.8,1878.1 L749.7,1875.0Z" fill="#000"/>
<path d="M758.1,1871.9 L761.2,1875.0 L758.1,1878.1 L755.0,1875.0Z" fill="#000"/>
<path d="M763.4,1871.9 L766.5,1875.0 L763.4,1878.1 L760.3,1875.0Z" fill="#000"/>
<line x1="834.2" y1="1875" x2="846.2" y2="1875" stroke="#000" stroke-width="1.6"/>
<path d="M834.9,1871.9 L838.0,1875.0 L834.9,1878.1 L831.8,1875.0Z" fill="#000"/>
<path d="M840.2,1871.9 L843.3,1875.0 L840.2,1878.1 L837.1,1875.0Z" fill="#000"/>
<path d="M845.5,1871.9 L848.6,1875.0 L845.5,1878.1 L842.4,1875.0Z" fill="#000"/>
<line x1="812.5" y1="1875" x2="824.5" y2="1875" stroke="#000" stroke-width="1.6"/>
<path d="M813.2,1871.9 L816.3,1875.0 L813.2,1878.1 L810.1,1875.0Z" fill="#000"/>
<path d="M818.5,1871.9 L821.6,1875.0 L818.5,1878.1 L815.4,1875.0Z" fill="#000"/>
<path d="M823.8,1871.9 L826.9,1875.0 L823.8,1878.1 L820.7,1875.0Z" fill="#000"/>
<line x1="894.6" y1="1875" x2="906.6" y2="1875" stroke="#000" stroke-width="1.6"/>
<path d="M895.3,1871.9 L898.4,1875.0 L895.3,1878.1 L892.2,1875.0Z" fill="#000"/>
<path d="M900.6,1871.9 L903.7,1875.0 L900.6,1878.1 L897.5,1875.0Z" fill="#000"/>
<path d="M905.9,1871.9 L909.0,1875.0 L905.9,1878.1 L902.8,1875.0Z" fill="#000"/>
<line x1="872.9" y1="1875" x2="884.9" y2="1875" stroke="#000" stroke-width="1.6"/>
<path d="M873.6,1871.9 L876.7,1875.0 L873.6,1878.1 L870.5,1875.0Z" fill="#000"/>
<path d="M878.9,1871.9 L882.0,1875.0 L878.9,1878.1 L875.8,1875.0Z" fill="#000"/>
<path d="M884.2,1871.9 L887.3,1875.0 L884.2,1878.1 L881.1,1875.0Z" fill="#000"/>
<line x1="955.0" y1="1875" x2="967.0" y2="1875" stroke="#000" stroke-width="1.6"/>
<path d="M955.7,1871.9 L958.8,1875.0 L955.7,1878.1 L952.6,1875.0Z" fill="#000"/>
<path d="M961.0,1871.9 L964.1,1875.0 L961.0,1878.1 L957.9,1875.0Z" fill="#000"/>
<path d="M966.3,1871.9 L969.4,1875.0 L966.3,1878.1 L963.2,1875.0Z" fill="#000"/>
<line x1="933.3" y1="1875" x2="945.3" y2="1875" stroke="#000" stroke-width="1.6"/>
<path d="M934.0,1871.9 L937.1,1875.0 L934.0,1878.1 L930.9,1875.0Z" fill="#000"/>
<path d="M939.3,1871.9 L942.4,1875.0 L939.3,1878.1 L936.2,1875.0Z" fill="#000"/>
<path d="M944.6,1871.9 L947.7,1875.0 L944.6,1878.1 L941.5,1875.0Z" fill="#000"/>
<text transform="translate(1137.4,1917.8) rotate(-45) scale(1.0,1.04)" font-size="29.3" font-weight="normal" font-style="normal" fill="#000" text-anchor="end" >Tri4155</text>
<text transform="translate(1197.8,1917.8) rotate(-45) scale(1.0,1.04)" font-size="29.3" font-weight="normal" font-style="normal" fill="#000" text-anchor="end" >Tcie612</text>
<text transform="translate(1258.2,1917.8) rotate(-45) scale(1.0,1.04)" font-size="29.3" font-weight="normal" font-style="normal" fill="#000" text-anchor="end" >Trei084</text>
<text transform="translate(1318.6,1917.8) rotate(-45) scale(1.0,1.04)" font-size="29.3" font-weight="normal" font-style="normal" fill="#000" text-anchor="end" >Tass213</text>
<text transform="translate(1379.0,1917.8) rotate(-45) scale(1.0,1.04)" font-size="29.3" font-weight="normal" font-style="normal" fill="#000" text-anchor="end" >Tasm819</text>
<text transform="translate(1439.4,1917.8) rotate(-45) scale(1.0,1.04)" font-size="29.3" font-weight="normal" font-style="normal" fill="#000" text-anchor="end" >Tham208</text>
<text transform="translate(1499.8,1917.8) rotate(-45) scale(1.0,1.04)" font-size="29.3" font-weight="normal" font-style="normal" fill="#000" text-anchor="end" >Tgai159</text>
<text transform="translate(1560.2,1917.8) rotate(-45) scale(1.0,1.04)" font-size="29.3" font-weight="normal" font-style="normal" fill="#000" text-anchor="end" >Tarm302</text>
<text transform="translate(1620.6,1917.8) rotate(-45) scale(1.0,1.04)" font-size="29.3" font-weight="normal" font-style="normal" fill="#000" text-anchor="end" >Tlom164</text>
<text transform="translate(1681.0,1917.8) rotate(-45) scale(1.0,1.04)" font-size="29.3" font-weight="normal" font-style="normal" fill="#000" text-anchor="end" >Tvis324</text>
<text transform="translate(1741.4,1917.8) rotate(-45) scale(1.0,1.04)" font-size="29.3" font-weight="normal" font-style="normal" fill="#000" text-anchor="end" >Opoa700</text>
<text transform="translate(1801.8,1917.8) rotate(-45) scale(1.0,1.04)" font-size="29.3" font-weight="normal" font-style="normal" fill="#000" text-anchor="end" >Ouns606</text>
<text transform="translate(1862.2,1917.8) rotate(-45) scale(1.0,1.04)" font-size="29.3" font-weight="normal" font-style="normal" fill="#000" text-anchor="end" >Ocai456</text>
<text transform="translate(1922.6,1917.8) rotate(-45) scale(1.0,1.04)" font-size="29.3" font-weight="normal" font-style="normal" fill="#000" text-anchor="end" >Mane486</text>
<text transform="translate(1082.3,1362.4) scale(1.0,1.05)" font-size="29.2" font-weight="normal" font-style="normal" fill="#000" text-anchor="end" >20</text>
<text transform="translate(1082.3,1493.7) scale(1.0,1.05)" font-size="29.2" font-weight="normal" font-style="normal" fill="#000" text-anchor="end" >15</text>
<text transform="translate(1082.3,1624.7) scale(1.0,1.05)" font-size="29.2" font-weight="normal" font-style="normal" fill="#000" text-anchor="end" >10</text>
<text transform="translate(1082.3,1754.9) scale(1.0,1.05)" font-size="29.2" font-weight="normal" font-style="normal" fill="#000" text-anchor="end" >5</text>
<text transform="translate(1082.3,1885.9) scale(1.0,1.05)" font-size="29.2" font-weight="normal" font-style="normal" fill="#000" text-anchor="end" >0</text>
<text transform="translate(1027.5,1619.3) rotate(-90) scale(1,1.07)" font-size="28.8" text-anchor="middle">Production (mg L<tspan font-size="19" dy="-12">-1</tspan><tspan dy="12">)</tspan></text>
<rect x="1838.6" y="1369.7" width="46.7" height="28.9" fill="#fdbf7f"/>
<rect x="1838.6" y="1403.2" width="46.7" height="29.6" fill="#04bf04"/>
<text transform="translate(1896.5,1394.2) scale(1.0,1.09)" font-size="28.5" font-weight="bold" font-style="normal" fill="#000" text-anchor="start" >1</text>
<text transform="translate(1896.5,1434.5) scale(1.0,1.09)" font-size="28.5" font-weight="bold" font-style="normal" fill="#000" text-anchor="start" >2</text>
<text transform="translate(1374.2,1507.8) scale(1.0,1.04)" font-size="35.2" font-weight="bold" font-style="normal" fill="#000" text-anchor="start" ><tspan font-style="italic">A. oryzae</tspan> NSAR1</text>
<rect x="1106.2" y="1611.1" width="22.1" height="263.9" fill="#fdbf7f"/>
<rect x="1129.1" y="1834.7" width="21.9" height="40.3" fill="#04bf04"/>
<rect x="1166.5" y="1592.7" width="22.3" height="282.3" fill="#fdbf7f"/>
<rect x="1227.0" y="1501.2" width="22.0" height="373.8" fill="#fdbf7f"/>
<rect x="1287.2" y="1745.2" width="22.2" height="129.8" fill="#fdbf7f"/>
<rect x="1310.0" y="1851.2" width="22.0" height="23.8" fill="#04bf04"/>
<rect x="1350.8" y="1868.3" width="15.8" height="6.7" fill="#fdbf7f"/>
<rect x="1408.2" y="1855.2" width="22.1" height="19.8" fill="#fdbf7f"/>
<rect x="1468.6" y="1651.1" width="22.1" height="223.9" fill="#fdbf7f"/>
<rect x="1491.2" y="1838.1" width="21.8" height="36.9" fill="#04bf04"/>
<rect x="1529.0" y="1715.2" width="21.9" height="159.8" fill="#fdbf7f"/>
<line x1="1128.1" y1="1875" x2="1128.1" y2="1890" stroke="#000" stroke-width="3.1"/>
<line x1="1188.5" y1="1875" x2="1188.5" y2="1890" stroke="#000" stroke-width="3.1"/>
<line x1="1248.9" y1="1875" x2="1248.9" y2="1890" stroke="#000" stroke-width="3.1"/>
<line x1="1309.3" y1="1875" x2="1309.3" y2="1890" stroke="#000" stroke-width="3.1"/>
<line x1="1369.7" y1="1875" x2="1369.7" y2="1890" stroke="#000" stroke-width="3.1"/>
<line x1="1430.1" y1="1875" x2="1430.1" y2="1890" stroke="#000" stroke-width="3.1"/>
<line x1="1490.5" y1="1875" x2="1490.5" y2="1890" stroke="#000" stroke-width="3.1"/>
<line x1="1550.9" y1="1875" x2="1550.9" y2="1890" stroke="#000" stroke-width="3.1"/>
<line x1="1611.3" y1="1875" x2="1611.3" y2="1890" stroke="#000" stroke-width="3.1"/>
<line x1="1671.7" y1="1875" x2="1671.7" y2="1890" stroke="#000" stroke-width="3.1"/>
<line x1="1732.1" y1="1875" x2="1732.1" y2="1890" stroke="#000" stroke-width="3.1"/>
<line x1="1792.5" y1="1875" x2="1792.5" y2="1890" stroke="#000" stroke-width="3.1"/>
<line x1="1852.9" y1="1875" x2="1852.9" y2="1890" stroke="#000" stroke-width="3.1"/>
<line x1="1913.3" y1="1875" x2="1913.3" y2="1890" stroke="#000" stroke-width="3.1"/>
<path d="M1088.1,1351.5H1939.9V1875H1088.1M1102.3,1351.5V1875" stroke="#000" stroke-width="3.1" fill="none"/>
<line x1="1088.1" y1="1351.5" x2="1102.3" y2="1351.5" stroke="#000" stroke-width="3.1"/>
<line x1="1088.1" y1="1482.8" x2="1102.3" y2="1482.8" stroke="#000" stroke-width="3.1"/>
<line x1="1088.1" y1="1613.8" x2="1102.3" y2="1613.8" stroke="#000" stroke-width="3.1"/>
<line x1="1088.1" y1="1744" x2="1102.3" y2="1744" stroke="#000" stroke-width="3.1"/>
<line x1="1088.1" y1="1875" x2="1102.3" y2="1875" stroke="#000" stroke-width="3.1"/>
<path d="M1117.3,1556.7V1665.8M1113.4,1556.7H1121.2M1113.4,1665.8H1121.2" stroke="#000" stroke-width="3.2" fill="none"/>
<path d="M1117.3,1553.4 L1120.6,1556.7 L1117.3,1560.0 L1114.0,1556.7Z" fill="#000"/>
<path d="M1117.3,1608.7 L1120.6,1612.0 L1117.3,1615.3 L1114.0,1612.0Z" fill="#000"/>
<path d="M1117.3,1662.5 L1120.6,1665.8 L1117.3,1669.1 L1114.0,1665.8Z" fill="#000"/>
<path d="M1139.9,1823.6V1844.1M1136.0,1823.6H1143.8M1136.0,1844.1H1143.8" stroke="#000" stroke-width="3.2" fill="none"/>
<path d="M1135.2,1824.3 L1138.5,1827.6 L1135.2,1830.9 L1131.9,1827.6Z" fill="#000"/>
<path d="M1143.6,1826.9 L1146.9,1830.2 L1143.6,1833.5 L1140.3,1830.2Z" fill="#000"/>
<path d="M1139.9,1842.7 L1143.2,1846.0 L1139.9,1849.3 L1136.6,1846.0Z" fill="#000"/>
<path d="M1177.5,1552.0V1633.0M1173.6,1552.0H1181.4M1173.6,1633.0H1181.4" stroke="#000" stroke-width="3.2" fill="none"/>
<path d="M1177.5,1543.4 L1180.8,1546.7 L1177.5,1550.0 L1174.2,1546.7Z" fill="#000"/>
<path d="M1172.8,1613.9 L1176.1,1617.2 L1172.8,1620.5 L1169.5,1617.2Z" fill="#000"/>
<path d="M1182.0,1611.0 L1185.3,1614.3 L1182.0,1617.6 L1178.7,1614.3Z" fill="#000"/>
<path d="M1238.0,1438.0V1565.1M1234.1,1438.0H1241.9M1234.1,1565.1H1241.9" stroke="#000" stroke-width="3.2" fill="none"/>
<path d="M1238.0,1429.7 L1241.3,1433.0 L1238.0,1436.3 L1234.7,1433.0Z" fill="#000"/>
<path d="M1238.0,1510.5 L1241.3,1513.8 L1238.0,1517.1 L1234.7,1513.8Z" fill="#000"/>
<path d="M1238.0,1555.7 L1241.3,1559.0 L1238.0,1562.3 L1234.7,1559.0Z" fill="#000"/>
<path d="M1298.3,1731.6V1758.4M1294.4,1731.6H1302.2M1294.4,1758.4H1302.2" stroke="#000" stroke-width="3.2" fill="none"/>
<path d="M1298.3,1727.7 L1301.6,1731.0 L1298.3,1734.3 L1295.0,1731.0Z" fill="#000"/>
<path d="M1298.3,1744.0 L1301.6,1747.3 L1298.3,1750.6 L1295.0,1747.3Z" fill="#000"/>
<path d="M1298.3,1755.1 L1301.6,1758.4 L1298.3,1761.7 L1295.0,1758.4Z" fill="#000"/>
<path d="M1320.9,1845.4V1856.5M1317.0,1845.4H1324.8M1317.0,1856.5H1324.8" stroke="#000" stroke-width="3.2" fill="none"/>
<path d="M1316.3,1845.2 L1319.6,1848.5 L1316.3,1851.8 L1313.0,1848.5Z" fill="#000"/>
<path d="M1325.3,1845.7 L1328.6,1849.0 L1325.3,1852.3 L1322.0,1849.0Z" fill="#000"/>
<path d="M1320.9,1854.2 L1324.2,1857.5 L1320.9,1860.8 L1317.6,1857.5Z" fill="#000"/>
<path d="M1358.0,1864.4V1872.3M1354.5,1864.4H1361.5M1354.5,1872.3H1361.5" stroke="#000" stroke-width="3.2" fill="none"/>
<path d="M1353.0,1863.2 L1356.3,1866.5 L1353.0,1869.8 L1349.7,1866.5Z" fill="#000"/>
<path d="M1362.5,1865.7 L1365.8,1869.0 L1362.5,1872.3 L1359.2,1869.0Z" fill="#000"/>
<path d="M1356.0,1868.7 L1359.3,1872.0 L1356.0,1875.3 L1352.7,1872.0Z" fill="#000"/>
<path d="M1419.0,1846.0V1861.8M1415.5,1846.0H1422.5M1415.5,1861.8H1422.5" stroke="#000" stroke-width="3.2" fill="none"/>
<path d="M1419.0,1842.7 L1422.3,1846.0 L1419.0,1849.3 L1415.7,1846.0Z" fill="#000"/>
<path d="M1414.0,1856.7 L1417.3,1860.0 L1414.0,1863.3 L1410.7,1860.0Z" fill="#000"/>
<path d="M1424.0,1855.2 L1427.3,1858.5 L1424.0,1861.8 L1420.7,1858.5Z" fill="#000"/>
<path d="M1479.3,1625.6V1676.9M1475.4,1625.6H1483.2M1475.4,1676.9H1483.2" stroke="#000" stroke-width="3.2" fill="none"/>
<path d="M1479.3,1628.9 L1482.6,1632.2 L1479.3,1635.5 L1476.0,1632.2Z" fill="#000"/>
<path d="M1479.3,1636.7 L1482.6,1640.0 L1479.3,1643.3 L1476.0,1640.0Z" fill="#000"/>
<path d="M1479.3,1676.2 L1482.6,1679.5 L1479.3,1682.8 L1476.0,1679.5Z" fill="#000"/>
<path d="M1502.0,1827.6V1848.6M1498.1,1827.6H1505.9M1498.1,1848.6H1505.9" stroke="#000" stroke-width="3.2" fill="none"/>
<path d="M1502.0,1832.7 L1505.3,1836.0 L1502.0,1839.3 L1498.7,1836.0Z" fill="#000"/>
<path d="M1502.0,1837.7 L1505.3,1841.0 L1502.0,1844.3 L1498.7,1841.0Z" fill="#000"/>
<path d="M1502.0,1846.3 L1505.3,1849.6 L1502.0,1852.9 L1498.7,1849.6Z" fill="#000"/>
<path d="M1539.8,1676.9V1753.2M1535.9,1676.9H1543.7M1535.9,1753.2H1543.7" stroke="#000" stroke-width="3.2" fill="none"/>
<path d="M1539.8,1667.5 L1543.1,1670.8 L1539.8,1674.1 L1536.5,1670.8Z" fill="#000"/>
<path d="M1539.8,1730.1 L1543.1,1733.4 L1539.8,1736.7 L1536.5,1733.4Z" fill="#000"/>
<path d="M1539.8,1738.0 L1543.1,1741.3 L1539.8,1744.6 L1536.5,1741.3Z" fill="#000"/>
<line x1="1193.9" y1="1875" x2="1205.9" y2="1875" stroke="#000" stroke-width="1.6"/>
<path d="M1194.6,1871.9 L1197.7,1875.0 L1194.6,1878.1 L1191.5,1875.0Z" fill="#000"/>
<path d="M1199.9,1871.9 L1203.0,1875.0 L1199.9,1878.1 L1196.8,1875.0Z" fill="#000"/>
<path d="M1205.2,1871.9 L1208.3,1875.0 L1205.2,1878.1 L1202.1,1875.0Z" fill="#000"/>
<line x1="1254.3" y1="1875" x2="1266.3" y2="1875" stroke="#000" stroke-width="1.6"/>
<path d="M1255.0,1871.9 L1258.1,1875.0 L1255.0,1878.1 L1251.9,1875.0Z" fill="#000"/>
<path d="M1260.3,1871.9 L1263.4,1875.0 L1260.3,1878.1 L1257.2,1875.0Z" fill="#000"/>
<path d="M1265.6,1871.9 L1268.7,1875.0 L1265.6,1878.1 L1262.5,1875.0Z" fill="#000"/>
<line x1="1375.1" y1="1875" x2="1387.1" y2="1875" stroke="#000" stroke-width="1.6"/>
<path d="M1375.8,1871.9 L1378.9,1875.0 L1375.8,1878.1 L1372.7,1875.0Z" fill="#000"/>
<path d="M1381.1,1871.9 L1384.2,1875.0 L1381.1,1878.1 L1378.0,1875.0Z" fill="#000"/>
<path d="M1386.4,1871.9 L1389.5,1875.0 L1386.4,1878.1 L1383.3,1875.0Z" fill="#000"/>
<line x1="1435.5" y1="1875" x2="1447.5" y2="1875" stroke="#000" stroke-width="1.6"/>
<path d="M1436.2,1871.9 L1439.3,1875.0 L1436.2,1878.1 L1433.1,1875.0Z" fill="#000"/>
<path d="M1441.5,1871.9 L1444.6,1875.0 L1441.5,1878.1 L1438.4,1875.0Z" fill="#000"/>
<path d="M1446.8,1871.9 L1449.9,1875.0 L1446.8,1878.1 L1443.7,1875.0Z" fill="#000"/>
<line x1="1556.3" y1="1875" x2="1568.3" y2="1875" stroke="#000" stroke-width="1.6"/>
<path d="M1557.0,1871.9 L1560.1,1875.0 L1557.0,1878.1 L1553.9,1875.0Z" fill="#000"/>
<path d="M1562.3,1871.9 L1565.4,1875.0 L1562.3,1878.1 L1559.2,1875.0Z" fill="#000"/>
<path d="M1567.6,1871.9 L1570.7,1875.0 L1567.6,1878.1 L1564.5,1875.0Z" fill="#000"/>
<line x1="1616.7" y1="1875" x2="1628.7" y2="1875" stroke="#000" stroke-width="1.6"/>
<path d="M1617.4,1871.9 L1620.5,1875.0 L1617.4,1878.1 L1614.3,1875.0Z" fill="#000"/>
<path d="M1622.7,1871.9 L1625.8,1875.0 L1622.7,1878.1 L1619.6,1875.0Z" fill="#000"/>
<path d="M1628.0,1871.9 L1631.1,1875.0 L1628.0,1878.1 L1624.9,1875.0Z" fill="#000"/>
<line x1="1595.0" y1="1875" x2="1607.0" y2="1875" stroke="#000" stroke-width="1.6"/>
<path d="M1595.7,1871.9 L1598.8,1875.0 L1595.7,1878.1 L1592.6,1875.0Z" fill="#000"/>
<path d="M1601.0,1871.9 L1604.1,1875.0 L1601.0,1878.1 L1597.9,1875.0Z" fill="#000"/>
<path d="M1606.3,1871.9 L1609.4,1875.0 L1606.3,1878.1 L1603.2,1875.0Z" fill="#000"/>
<line x1="1677.1" y1="1875" x2="1689.1" y2="1875" stroke="#000" stroke-width="1.6"/>
<path d="M1677.8,1871.9 L1680.9,1875.0 L1677.8,1878.1 L1674.7,1875.0Z" fill="#000"/>
<path d="M1683.1,1871.9 L1686.2,1875.0 L1683.1,1878.1 L1680.0,1875.0Z" fill="#000"/>
<path d="M1688.4,1871.9 L1691.5,1875.0 L1688.4,1878.1 L1685.3,1875.0Z" fill="#000"/>
<line x1="1655.4" y1="1875" x2="1667.4" y2="1875" stroke="#000" stroke-width="1.6"/>
<path d="M1656.1,1871.9 L1659.2,1875.0 L1656.1,1878.1 L1653.0,1875.0Z" fill="#000"/>
<path d="M1661.4,1871.9 L1664.5,1875.0 L1661.4,1878.1 L1658.3,1875.0Z" fill="#000"/>
<path d="M1666.7,1871.9 L1669.8,1875.0 L1666.7,1878.1 L1663.6,1875.0Z" fill="#000"/>
<line x1="1737.5" y1="1875" x2="1749.5" y2="1875" stroke="#000" stroke-width="1.6"/>
<path d="M1738.2,1871.9 L1741.3,1875.0 L1738.2,1878.1 L1735.1,1875.0Z" fill="#000"/>
<path d="M1743.5,1871.9 L1746.6,1875.0 L1743.5,1878.1 L1740.4,1875.0Z" fill="#000"/>
<path d="M1748.8,1871.9 L1751.9,1875.0 L1748.8,1878.1 L1745.7,1875.0Z" fill="#000"/>
<line x1="1715.8" y1="1875" x2="1727.8" y2="1875" stroke="#000" stroke-width="1.6"/>
<path d="M1716.5,1871.9 L1719.6,1875.0 L1716.5,1878.1 L1713.4,1875.0Z" fill="#000"/>
<path d="M1721.8,1871.9 L1724.9,1875.0 L1721.8,1878.1 L1718.7,1875.0Z" fill="#000"/>
<path d="M1727.1,1871.9 L1730.2,1875.0 L1727.1,1878.1 L1724.0,1875.0Z" fill="#000"/>
<line x1="1797.9" y1="1875" x2="1809.9" y2="1875" stroke="#000" stroke-width="1.6"/>
<path d="M1798.6,1871.9 L1801.7,1875.0 L1798.6,1878.1 L1795.5,1875.0Z" fill="#000"/>
<path d="M1803.9,1871.9 L1807.0,1875.0 L1803.9,1878.1 L1800.8,1875.0Z" fill="#000"/>
<path d="M1809.2,1871.9 L1812.3,1875.0 L1809.2,1878.1 L1806.1,1875.0Z" fill="#000"/>
<line x1="1776.2" y1="1875" x2="1788.2" y2="1875" stroke="#000" stroke-width="1.6"/>
<path d="M1776.9,1871.9 L1780.0,1875.0 L1776.9,1878.1 L1773.8,1875.0Z" fill="#000"/>
<path d="M1782.2,1871.9 L1785.3,1875.0 L1782.2,1878.1 L1779.1,1875.0Z" fill="#000"/>
<path d="M1787.5,1871.9 L1790.6,1875.0 L1787.5,1878.1 L1784.4,1875.0Z" fill="#000"/>
<line x1="1858.3" y1="1875" x2="1870.3" y2="1875" stroke="#000" stroke-width="1.6"/>
<path d="M1859.0,1871.9 L1862.1,1875.0 L1859.0,1878.1 L1855.9,1875.0Z" fill="#000"/>
<path d="M1864.3,1871.9 L1867.4,1875.0 L1864.3,1878.1 L1861.2,1875.0Z" fill="#000"/>
<path d="M1869.6,1871.9 L1872.7,1875.0 L1869.6,1878.1 L1866.5,1875.0Z" fill="#000"/>
<line x1="1836.6" y1="1875" x2="1848.6" y2="1875" stroke="#000" stroke-width="1.6"/>
<path d="M1837.3,1871.9 L1840.4,1875.0 L1837.3,1878.1 L1834.2,1875.0Z" fill="#000"/>
<path d="M1842.6,1871.9 L1845.7,1875.0 L1842.6,1878.1 L1839.5,1875.0Z" fill="#000"/>
<path d="M1847.9,1871.9 L1851.0,1875.0 L1847.9,1878.1 L1844.8,1875.0Z" fill="#000"/>
<line x1="1918.7" y1="1875" x2="1930.7" y2="1875" stroke="#000" stroke-width="1.6"/>
<path d="M1919.4,1871.9 L1922.5,1875.0 L1919.4,1878.1 L1916.3,1875.0Z" fill="#000"/>
<path d="M1924.7,1871.9 L1927.8,1875.0 L1924.7,1878.1 L1921.6,1875.0Z" fill="#000"/>
<path d="M1930.0,1871.9 L1933.1,1875.0 L1930.0,1878.1 L1926.9,1875.0Z" fill="#000"/>
<line x1="1897.0" y1="1875" x2="1909.0" y2="1875" stroke="#000" stroke-width="1.6"/>
<path d="M1897.7,1871.9 L1900.8,1875.0 L1897.7,1878.1 L1894.6,1875.0Z" fill="#000"/>
<path d="M1903.0,1871.9 L1906.1,1875.0 L1903.0,1878.1 L1899.9,1875.0Z" fill="#000"/>
<path d="M1908.3,1871.9 L1911.4,1875.0 L1908.3,1878.1 L1905.2,1875.0Z" fill="#000"/>
</svg>
</body></html>
